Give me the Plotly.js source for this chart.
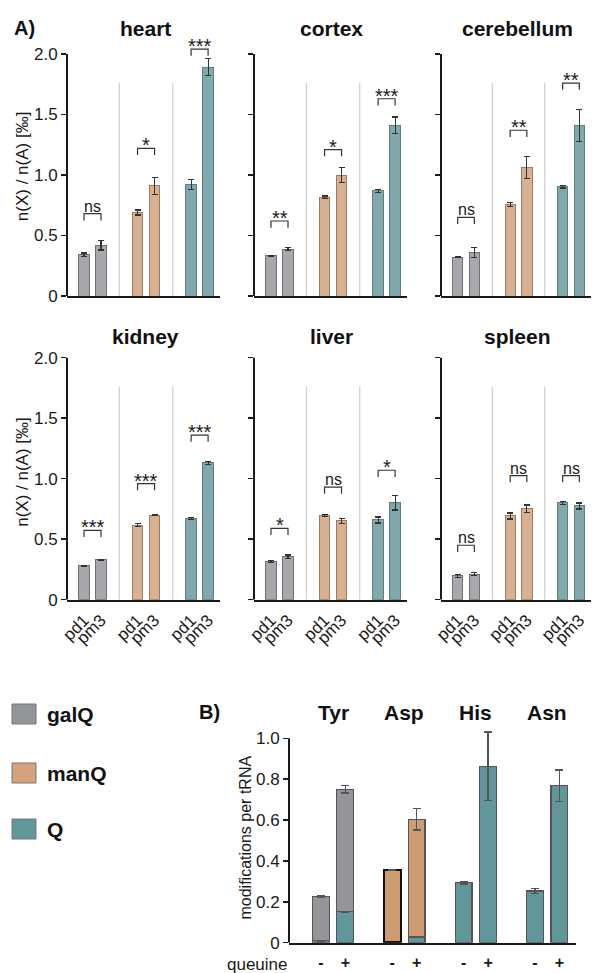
<!DOCTYPE html>
<html><head><meta charset="utf-8">
<script src="https://cdn.plot.ly/plotly-3.0.1.min.js"></script>
<style>html,body{margin:0;padding:0;background:#fff}#chart{width:592px;height:973px}</style>
</head><body><div id="chart"></div>
<script>
// ================= DATA =================
const tissues = ['heart','cortex','cerebellum','kidney','liver','spleen'];
const species = ['galQ','manQ','Q'];
const strainLabels = ['pd1','pm3','pd1','pm3','pd1','pm3'];
// order of bars: galQ pd1, galQ pm3, manQ pd1, manQ pm3, Q pd1, Q pm3
const heartMean      = [0.34, 0.42, 0.69, 0.91, 0.92, 1.89];
const heartErr       = [0.015,0.04, 0.02, 0.07, 0.04, 0.07];
const cortexMean     = [0.333,0.388,0.816,1.00, 0.868,1.41];
const cortexErr      = [0.005,0.01, 0.01, 0.065,0.01, 0.07];
const cerebellumMean = [0.32, 0.361,0.758,1.06, 0.903,1.41];
const cerebellumErr  = [0.005,0.04, 0.015,0.09, 0.01, 0.13];
const kidneyMean     = [0.281,0.33, 0.617,0.70, 0.67, 1.13];
const kidneyErr      = [0.003,0.005,0.01, 0.005,0.01, 0.01];
const liverMean      = [0.317,0.355,0.697,0.653,0.659,0.80];
const liverErr       = [0.01, 0.015,0.01, 0.02, 0.025,0.058];
const spleenMean     = [0.196,0.21, 0.692,0.752,0.80, 0.775];
const spleenErr      = [0.015,0.012,0.025,0.03, 0.01, 0.025];
// significance per species group (galQ, manQ, Q)
const heartSig      = ['ns','*','***'];
const cortexSig     = ['**','*','***'];
const cerebellumSig = ['ns','**','**'];
const kidneySig     = ['***','***','***'];
const liverSig      = ['*','ns','*'];
const spleenSig     = ['ns','ns','ns'];
// bracket levels
const heartBracket      = [0.68, 1.22, 2.04];
const cortexBracket     = [0.62, 1.21, 1.63];
const cerebellumBracket = [0.65, 1.37, 1.76];
const kidneyBracket     = [0.573,0.96, 1.36];
const liverBracket      = [0.59, 0.93, 1.07];
const spleenBracket     = [0.45, 1.025,1.025];

// Panel B
const trnas = ['Tyr','Asp','His','Asn'];
const queuineLabels = ['-','+','-','+','-','+','-','+'];
const qPart      = [0.01, 0.154,0.003,0.028,0.294,0.864,0.253,0.768];
const qPartErr   = [0.002,0.004,0,    0.002,0.006,0.168,0.012,0.078];
const otherPart  = [0.217,0.596,0.354,0.576,null,null,null,null]; // galQ (Tyr), manQ (Asp)
const otherErr   = [0.003,0.018,0.002,0.053,null,null,null,null];
const otherKind  = ['galQ','galQ','manQ','manQ','Q','Q','Q','Q'];

// ================= STYLE =================
const FONT = 'Liberation Sans, Arial, Helvetica, sans-serif';
const INK = '#1a1a1a';
const colA = {galQ:'#a7a8ac', manQ:'#d8b193', Q:'#82a8ac'};
const lineA = {galQ:'#6f7074', manQ:'#9b7b62', Q:'#5b8084'};
const colB = {galQ:'#959599', manQ:'#cd9c73', Q:'#62969a'};
const colL = {galQ:'#939498', manQ:'#d4a27d', Q:'#62989b'};

const W = 592, H = 973;
const px = v => v / W, py = v => 1 - v / H;
const colX = [[67,220],[254,407],[441,591]];
const rowY = [[41.9,296],[345.6,599.7]];
const pos = [0,1,3.15,4.15,6.3,7.3];
const posB = [0,1,2.91,3.91,5.83,6.83,8.74,9.74];

const means = [heartMean,cortexMean,cerebellumMean,kidneyMean,liverMean,spleenMean];
const errs  = [heartErr,cortexErr,cerebellumErr,kidneyErr,liverErr,spleenErr];
const sigs  = [heartSig,cortexSig,cerebellumSig,kidneySig,liverSig,spleenSig];
const brks  = [heartBracket,cortexBracket,cerebellumBracket,kidneyBracket,liverBracket,spleenBracket];

const barSpecies = [0,0,1,1,2,2].map(i => species[i]);
const traces = [], shapes = [], annotations = [];
const layout = {
  width: W, height: H, margin:{l:0,r:0,t:0,b:0},
  paper_bgcolor:'#fff', plot_bgcolor:'rgba(0,0,0,0)',
  showlegend:false, barmode:'stack',
  font:{family:FONT, color:INK}
};

tissues.forEach((t, i) => {
  const r = Math.floor(i/3), c = i % 3, k = i + 1;
  const xs = k === 1 ? 'x' : 'x' + k, ys = k === 1 ? 'y' : 'y' + k;
  layout['xaxis' + (k === 1 ? '' : k)] = {
    domain:[px(colX[c][0]), px(colX[c][1])], range:[-1,8], anchor: ys,
    showline:true, linecolor:INK, linewidth:2, ticks:'', showgrid:false, zeroline:false,
    tickvals: pos, ticktext: strainLabels, showticklabels: r === 1, tickangle:-45,
    tickfont:{size:17, color:INK}, ticklabelstandoff:2, fixedrange:true
  };
  layout['yaxis' + (k === 1 ? '' : k)] = {
    domain:[py(rowY[r][1]), py(rowY[r][0])], range:[0,2.1], anchor: xs,
    showline:false, ticks:'outside', ticklen:5, tickwidth:1.5, tickcolor:INK,
    tickvals:[0,0.5,1,1.5,2], ticktext:['0','0.5','1.0','1.5','2.0'],
    showticklabels: c === 0, tickfont:{size:17, color:INK},
    showgrid:false, zeroline:false, fixedrange:true
  };
  traces.push({
    type:'bar', x: pos, y: means[i], xaxis: xs, yaxis: ys, width:0.62,
    marker:{color: barSpecies.map(s => colA[s]), line:{color: barSpecies.map(s => lineA[s]), width:1}},
    error_y:{type:'data', array: errs[i], visible:true, color:'#333', thickness:1.2, width:3},
    hoverinfo:'skip'
  });
  // y axis line (0..2.0)
  shapes.push({type:'line', xref: xs + ' domain', yref: ys, x0:0, x1:0, y0:0, y1:2,
    line:{color:INK, width:2}});
  // separators
  [ (pos[1]+pos[2])/2, (pos[3]+pos[4])/2 ].forEach(sx => shapes.push({
    type:'line', xref: xs, yref: ys, x0:sx, x1:sx, y0:0, y1:1.76, line:{color:'#c4c4c4', width:1}}));
  // brackets + significance
  for (let g = 0; g < 3; g++) {
    const x0 = pos[2*g], x1 = pos[2*g+1], yb = brks[i][g], leg = 0.055;
    shapes.push({type:'path', xref: xs, yref: ys,
      path:`M${x0},${yb-leg} L${x0},${yb} L${x1},${yb} L${x1},${yb-leg}`,
      line:{color:'#333', width:1.2}});
    const isStar = sigs[i][g] !== 'ns';
    annotations.push({xref: xs, yref: ys, x:(x0+x1)/2, y: yb, yanchor:'bottom', xanchor:'center',
      text: sigs[i][g], showarrow:false, borderpad:0, yshift: isStar ? -9 : -2,
      font:{size: isStar ? 20 : 16, color:INK}});
  }
  // title
  const tx = (colX[c][0] + colX[c][1]) / 2 + (c === 0 ? 2 : 1);
  annotations.push({xref:'paper', yref:'paper', x: px(tx), y: py(r === 0 ? 28 : 336),
    xanchor:'center', yanchor:'middle', text:'<b>' + t + '</b>', showarrow:false,
    font:{size:21, color:'#111'}});
});

// Y titles for panel A
[166.7, 472.3].forEach(yc => annotations.push({xref:'paper', yref:'paper', x: px(22.5), y: py(yc),
  xanchor:'center', yanchor:'middle', textangle:-90, text:'n(X) / n(A) [‰]', showarrow:false,
  font:{size:17, color:INK}}));
annotations.push({xref:'paper', yref:'paper', x: px(12), y: py(28), xanchor:'left', yanchor:'middle',
  text:'<b>A)</b>', showarrow:false, font:{size:20, color:'#111'}});

// ================= PANEL B =================
layout.xaxis7 = {domain:[px(289), px(576)], range:[-1.3,10.42], anchor:'y7',
  showline:true, linecolor:INK, linewidth:2, ticks:'', showgrid:false, zeroline:false,
  tickvals: posB, ticktext: queuineLabels.map(s => '<b>' + s + '</b>'), tickangle:0,
  tickfont:{size:16, color:INK}, ticklabelstandoff:4, fixedrange:true};
layout.yaxis7 = {domain:[py(942.7), py(728.1)], range:[0,1.05], anchor:'x7',
  showline:false, ticks:'outside', ticklen:5, tickwidth:1.5, tickcolor:INK,
  tickvals:[0,0.2,0.4,0.6,0.8,1.0], ticktext:['0','0.2','0.4','0.6','0.8','1.0'],
  tickfont:{size:17, color:INK}, showgrid:false, zeroline:false, fixedrange:true};
shapes.push({type:'line', xref:'x7 domain', yref:'y7', x0:0, x1:0, y0:0, y1:1.0, line:{color:INK, width:2}});

traces.push({type:'bar', x: posB, y: qPart, xaxis:'x7', yaxis:'y7', width:0.69,
  marker:{color: colB.Q, line:{color:'#555', width:1.2}},
  error_y:{type:'data', array: qPartErr, visible:true, color:'#555', thickness:1.5, width:4},
  hoverinfo:'skip'});
traces.push({type:'bar', x: posB, y: otherPart, xaxis:'x7', yaxis:'y7', width:0.69,
  marker:{color: otherKind.map(s => colB[s]),
          line:{color: otherKind.map((s,j) => j === 2 ? '#111' : '#555'), width: otherKind.map((s,j) => j === 2 ? 2 : 1.2)}},
  error_y:{type:'data', array: otherErr, visible:true, color:'#555', thickness:1.5, width:4},
  hoverinfo:'skip'});

trnas.forEach((n, g) => annotations.push({xref:'x7', yref:'paper', x:(posB[2*g]+posB[2*g+1])/2, y: py(712),
  xanchor:'center', yanchor:'middle', text:'<b>' + n + '</b>', showarrow:false, font:{size:21, color:'#111'}}));
annotations.push({xref:'paper', yref:'paper', x: px(197), y: py(712), xanchor:'left', yanchor:'middle',
  text:'<b>B)</b>', showarrow:false, font:{size:20, color:'#111'}});
annotations.push({xref:'paper', yref:'paper', x: px(245), y: py(837.5), xanchor:'center', yanchor:'middle',
  textangle:-90, text:'modifications per tRNA', showarrow:false, font:{size:16, color:INK}});
annotations.push({xref:'paper', yref:'paper', x: px(257), y: py(964), xanchor:'center', yanchor:'middle',
  text:'queuine', showarrow:false, font:{size:17, color:INK}});

// ================= LEGEND =================
const legY = [714, 773, 829];
species.forEach((s, j) => {
  shapes.push({type:'rect', xref:'paper', yref:'paper', x0: px(12), x1: px(36),
    y0: py(legY[j]+10), y1: py(legY[j]-10), fillcolor: colL[s], line:{color:'#777', width:1}});
  annotations.push({xref:'paper', yref:'paper', x: px(45), y: py(legY[j]), xanchor:'left', yanchor:'middle',
    text:'<b>' + s + '</b>', showarrow:false, font:{size:21, color:'#111'}});
});

layout.shapes = shapes;
layout.annotations = annotations;
Plotly.newPlot('chart', traces, layout, {staticPlot:true, displayModeBar:false});
</script></body></html>
